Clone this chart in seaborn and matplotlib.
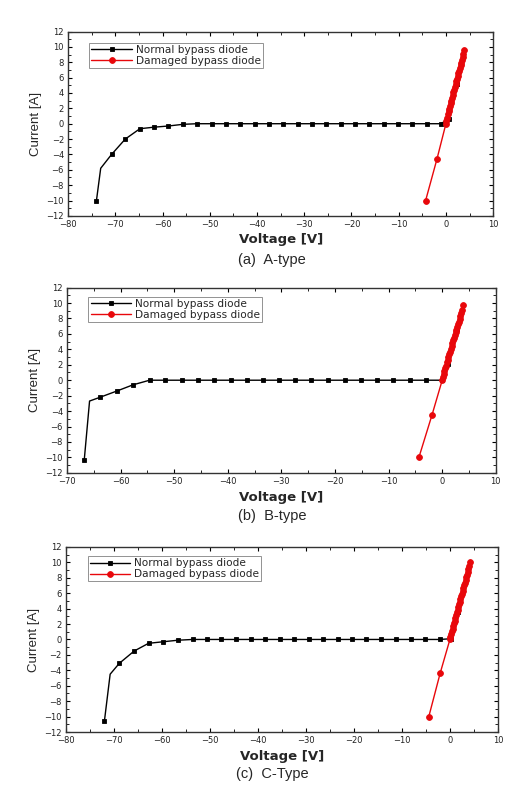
import matplotlib
matplotlib.use("Agg")
import matplotlib.pyplot as plt
import seaborn as sns
from matplotlib.ticker import MultipleLocator

sns.set_style("ticks")
plt.rcParams['font.family'] = ['DejaVu Sans']

# ---- (a) A-type ----
a_norm_v = [-74.0, -73.1, -70.8, -67.9, -64.8, -61.8, -58.8, -55.7, -52.7, -49.6, -46.6, -43.6,
            -40.5, -37.5, -34.5, -31.4, -28.4, -25.4, -22.3, -19.3, -16.2, -13.2, -10.2, -7.1,
            -4.1, -1.1, 0.6, 2.3]
a_norm_i = [-10.0, -5.8, -4.0, -2.0, -0.65, -0.45, -0.3, -0.08, 0.0, 0.0, 0.0, 0.0,
            0.0, 0.0, 0.0, 0.0, 0.0, 0.0, 0.0, 0.0, 0.0, 0.0, 0.0, 0.0,
            0.0, 0.0, 0.6, 5.2]
a_dmg_v = [-4.3, -1.9, 0.0, 0.1, 0.25, 0.4, 0.55, 0.7, 0.85, 1.0, 1.15, 1.3, 1.45, 1.6, 1.75,
           1.9, 2.05, 2.2, 2.35, 2.5, 2.65, 2.8, 2.95, 3.1, 3.25, 3.4, 3.55, 3.7, 3.8]
a_dmg_i = [-10.0, -4.6, 0.0, 0.4, 0.8, 1.2, 1.6, 1.95, 2.3, 2.65, 3.0, 3.4, 3.75, 4.1, 4.45,
           4.8, 5.15, 5.5, 5.85, 6.2, 6.55, 6.9, 7.25, 7.6, 7.95, 8.3, 8.7, 9.1, 9.6]

# ---- (b) B-type ----
b_norm_v = [-66.8, -65.8, -63.8, -60.7, -57.7, -54.6, -51.7, -48.6, -45.6, -42.5, -39.5, -36.5,
            -33.5, -30.4, -27.4, -24.4, -21.3, -18.2, -15.2, -12.2, -9.2, -6.1, -3.1, 0.0,
            1.0, 2.8]
b_norm_i = [-10.4, -2.7, -2.2, -1.4, -0.6, 0.0, 0.0, 0.0, 0.0, 0.0, 0.0, 0.0,
            0.0, 0.0, 0.0, 0.0, 0.0, 0.0, 0.0, 0.0, 0.0, 0.0, 0.0, 0.0,
            2.1, 6.7]
b_dmg_v = [-4.3, -1.9, 0.0, 0.1, 0.25, 0.4, 0.55, 0.7, 0.85, 1.0, 1.15, 1.3, 1.45, 1.6, 1.75,
           1.9, 2.05, 2.2, 2.35, 2.5, 2.65, 2.8, 2.95, 3.1, 3.25, 3.4, 3.55, 3.7, 3.9]
b_dmg_i = [-9.9, -4.5, 0.0, 0.4, 0.8, 1.2, 1.55, 1.9, 2.3, 2.65, 3.0, 3.35, 3.7, 4.05, 4.4,
           4.8, 5.15, 5.5, 5.85, 6.2, 6.55, 6.9, 7.25, 7.6, 7.95, 8.3, 8.7, 9.1, 9.7]

# ---- (c) C-Type ----
c_norm_v = [-72.0, -70.8, -68.9, -65.8, -62.8, -59.8, -56.7, -53.6, -50.6, -47.6, -44.5, -41.5,
            -38.5, -35.5, -32.5, -29.4, -26.4, -23.4, -20.4, -17.4, -14.3, -11.3, -8.2, -5.2,
            -2.1, 0.3, 1.6]
c_norm_i = [-10.6, -4.5, -3.1, -1.5, -0.5, -0.3, -0.1, 0.0, 0.0, 0.0, 0.0, 0.0,
            0.0, 0.0, 0.0, 0.0, 0.0, 0.0, 0.0, 0.0, 0.0, 0.0, 0.0, 0.0,
            0.0, 0.1, 3.6]
c_dmg_v = [-4.4, -2.0, 0.0, 0.1, 0.25, 0.4, 0.55, 0.7, 0.85, 1.0, 1.15, 1.3, 1.45, 1.6, 1.75,
           1.9, 2.05, 2.2, 2.35, 2.5, 2.65, 2.8, 2.95, 3.1, 3.25, 3.4, 3.55, 3.7, 3.85, 4.0, 4.2]
c_dmg_i = [-10.0, -4.3, 0.0, 0.35, 0.7, 1.05, 1.4, 1.75, 2.1, 2.45, 2.8, 3.15, 3.5, 3.85, 4.2,
           4.55, 4.9, 5.25, 5.6, 5.95, 6.3, 6.65, 7.0, 7.35, 7.7, 8.05, 8.4, 8.75, 9.1, 9.5, 10.0]

panels = [
    (a_norm_v, a_norm_i, a_dmg_v, a_dmg_i, -80, [0.129, 0.726, 0.805, 0.234], "(a)  A-type"),
    (b_norm_v, b_norm_i, b_dmg_v, b_dmg_i, -70, [0.127, 0.400, 0.812, 0.235], "(b)  B-type"),
    (c_norm_v, c_norm_i, c_dmg_v, c_dmg_i, -80, [0.125, 0.071, 0.818, 0.235], "(c)  C-Type"),
]
xlabel_y = [0.696, 0.369, 0.040]
caption_y = [0.670, 0.345, 0.018]
legend_anchor = [(0.05, 0.94), (0.05, 0.95), (0.05, 0.95)]

fig = plt.figure(figsize=(5.28, 7.88), dpi=100)

for k, (nv, ni, dv, di, xmin, pos, caption) in enumerate(panels):
    ax = fig.add_axes(pos)
    # the kink point right after the first one has no marker in the original
    marks = [i for i in range(len(nv)) if i != 1]
    sns.lineplot(x=nv, y=ni, ax=ax, estimator=None, sort=False, color="black",
                 linewidth=1.0, marker="s", markersize=3.4, markeredgecolor="black",
                 markeredgewidth=0.6, markevery=marks, label="Normal bypass diode")
    sns.lineplot(x=dv, y=di, ax=ax, estimator=None, sort=False, color="#e8070b",
                 linewidth=1.0, marker="o", markersize=4.2, markeredgecolor="#e8070b",
                 markeredgewidth=0.6, label="Damaged bypass diode")

    ax.set_xlim(xmin, 10)
    ax.set_ylim(-12, 12)
    ax.xaxis.set_major_locator(MultipleLocator(10))
    ax.xaxis.set_minor_locator(MultipleLocator(5))
    ax.yaxis.set_major_locator(MultipleLocator(2))
    ax.yaxis.set_minor_locator(MultipleLocator(1))
    ax.tick_params(which="both", direction="in", top=True, right=True, labelsize=6,
                   pad=3, colors="black", labelcolor="#222222")
    ax.tick_params(which="major", length=3, width=0.8)
    ax.tick_params(which="minor", length=2, width=0.6)
    for sp in ax.spines.values():
        sp.set_linewidth(1.0)
        sp.set_color("#333333")

    ax.set_xlabel("")
    ax.set_ylabel("Current [A]", fontsize=9.5, family="Liberation Sans", labelpad=3)
    fig.text(pos[0] + pos[2] * 0.5, xlabel_y[k], "Voltage [V]", ha="center", va="center",
             fontsize=9.5, fontweight="bold")
    fig.text(0.515, caption_y[k], caption, ha="center", va="center", fontsize=10.5,
             family="Liberation Sans")

    leg = ax.legend(loc="upper left", bbox_to_anchor=legend_anchor[k], fontsize=7.6,
                    frameon=True, fancybox=False, borderpad=0.2, labelspacing=0.1,
                    handlelength=3.8, handletextpad=0.4, borderaxespad=0)
    leg.get_frame().set_edgecolor("#777777")
    leg.get_frame().set_linewidth(0.7)

fig.savefig("out.png", dpi=100)
